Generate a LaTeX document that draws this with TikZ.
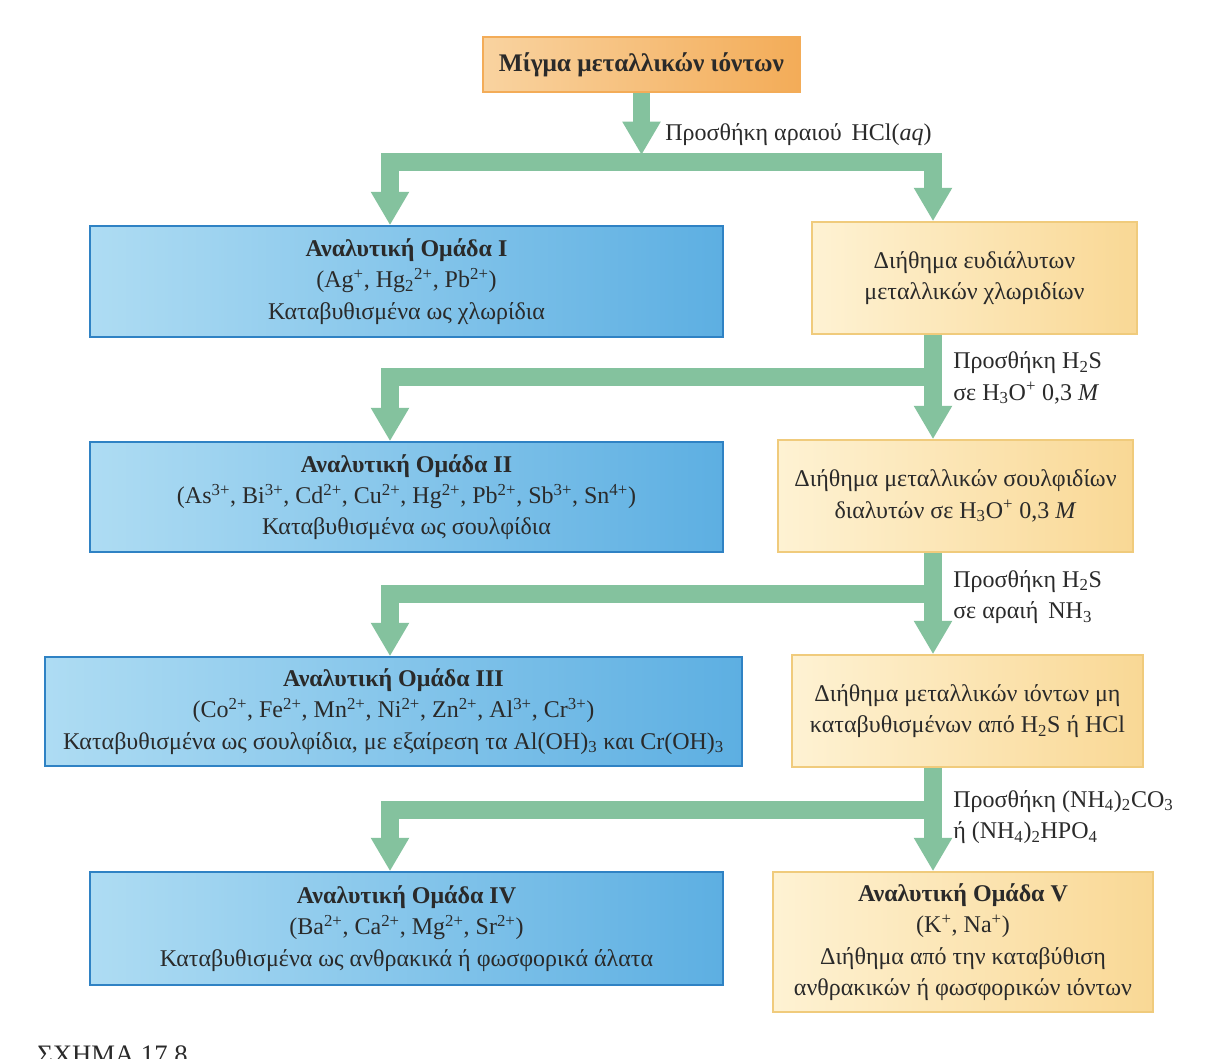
\documentclass[tikz,border=0pt]{standalone}
\usepackage{fontspec}
\setmainfont{Liberation Serif}
\usepackage{xcolor}
\usetikzlibrary{arrows.meta}
\definecolor{flowgreen}{HTML}{84C29E}
\definecolor{blueL}{HTML}{AEDCF3}
\definecolor{blueD}{HTML}{5DAFE2}
\definecolor{blueE}{HTML}{2F82C4}
\definecolor{yelL}{HTML}{FEF2D3}
\definecolor{yelD}{HTML}{F9D895}
\definecolor{yelE}{HTML}{F0CB7C}
\definecolor{oraL}{HTML}{F9D3A0}
\definecolor{oraD}{HTML}{F3AC58}
\definecolor{inkgray}{HTML}{2A2A2A}
\tikzset{
    group-box/.style = {draw=blueE, line width=1.2pt, left color=blueL, right color=blueD, rectangle, align=center, inner sep=4pt},
    filtrate-box/.style = {draw=yelE, line width=1.2pt, left color=yelL, right color=yelD, rectangle, align=center, inner sep=4pt},
    mix-box/.style = {draw=oraD, line width=1pt, left color=oraL, right color=oraD, rectangle, align=center, font=\fontsize{19}{23}\selectfont\bfseries},
    step-label/.style = {anchor=west, align=left, inner sep=0pt, text=inkgray},
    flow-arrow/.style = {draw=flowgreen, line width=13pt, line join=miter},
    flow-tip/.style = {-{Triangle[length=25pt,width=27pt]}},
}

\begin{document}
\begin{tikzpicture}[x=0.75pt,y=-0.75pt, font=\fontsize{18}{23.5}\selectfont, text=inkgray]
\fill[white] (0,0) rectangle (1205,1058);
\useasboundingbox (0,0) rectangle (1205,1058);

% lanes of the flow
\coordinate (spine) at (933,0);
\coordinate (lane) at (390,0);
\coordinate (bar1) at (636,162);
\coordinate (bar2) at (933,377);
\coordinate (bar3) at (933,594);
\coordinate (bar4) at (933,810);

% boxes
\node[mix-box, minimum width=237.75pt, minimum height=41.25pt] (mix) at (641.5,64.5) {Μίγμα μεταλλικών ιόντων};

\node[group-box, minimum width=474.75pt, minimum height=83.25pt] (grpI) at (406.5,281.5)
    {\textbf{Αναλυτική Ομάδα I}\\(Ag\textsuperscript{+}, Hg\textsubscript{2}\textsuperscript{2+}, Pb\textsuperscript{2+})\\Καταβυθισμένα ως χλωρίδια};
\node[filtrate-box, minimum width=243.75pt, minimum height=84pt] (sol1) at (974.5,278)
    {Διήθημα ευδιάλυτων\\μεταλλικών χλωριδίων};

\node[group-box, minimum width=474.75pt, minimum height=82.5pt] (grpII) at (406.5,497)
    {\textbf{Αναλυτική Ομάδα II}\\(As\textsuperscript{3+}, Bi\textsuperscript{3+}, Cd\textsuperscript{2+}, Cu\textsuperscript{2+}, Hg\textsuperscript{2+}, Pb\textsuperscript{2+}, Sb\textsuperscript{3+}, Sn\textsuperscript{4+})\\Καταβυθισμένα ως σουλφίδια};
\node[filtrate-box, minimum width=266.25pt, minimum height=84pt] (sol2) at (955.5,496)
    {Διήθημα μεταλλικών σουλφιδίων\\διαλυτών σε H\textsubscript{3}O\textsuperscript{+} 0,3 \textit{M}};

\node[group-box, minimum width=522.75pt, minimum height=81.75pt] (grpIII) at (393.5,711.5)
    {\textbf{Αναλυτική Ομάδα III}\\(Co\textsuperscript{2+}, Fe\textsuperscript{2+}, Mn\textsuperscript{2+}, Ni\textsuperscript{2+}, Zn\textsuperscript{2+}, Al\textsuperscript{3+}, Cr\textsuperscript{3+})\\Καταβυθισμένα ως σουλφίδια, με εξαίρεση τα Al(OH)\textsubscript{3} και Cr(OH)\textsubscript{3}};
\node[filtrate-box, minimum width=263.25pt, minimum height=84pt] (sol3) at (967.5,711)
    {Διήθημα μεταλλικών ιόντων μη\\καταβυθισμένων από H\textsubscript{2}S ή HCl};

\node[group-box, minimum width=474.75pt, minimum height=84.75pt] (grpIV) at (406.5,928.5)
    {\textbf{Αναλυτική Ομάδα IV}\\(Ba\textsuperscript{2+}, Ca\textsuperscript{2+}, Mg\textsuperscript{2+}, Sr\textsuperscript{2+})\\Καταβυθισμένα ως ανθρακικά ή φωσφορικά άλατα};
\node[filtrate-box, minimum width=285pt, minimum height=105pt] (grpV) at (963,942)
    {\textbf{Αναλυτική Ομάδα V}\\(K\textsuperscript{+}, Na\textsuperscript{+})\\Διήθημα από την καταβύθιση\\ανθρακικών ή φωσφορικών ιόντων};

% arrows
\draw[flow-arrow, flow-tip] (mix.south) -- (mix.south |- 0,155);
\draw[flow-arrow, {Triangle[length=25pt,width=27pt]}-{Triangle[length=25pt,width=27pt]}]
    (grpI.north -| lane) |- (bar1) -| (sol1.north -| spine);
\draw[flow-arrow, flow-tip] (sol1.south -| spine) -- (sol2.north -| spine);
\draw[flow-arrow, flow-tip] (bar2) -| (grpII.north -| lane);
\draw[flow-arrow, flow-tip] (sol2.south -| spine) -- (sol3.north -| spine);
\draw[flow-arrow, flow-tip] (bar3) -| (grpIII.north -| lane);
\draw[flow-arrow, flow-tip] (sol3.south -| spine) -- (grpV.north -| spine);
\draw[flow-arrow, flow-tip] (bar4) -| (grpIV.north -| lane);

% labels
\node[step-label] (lab1) at (665,135) {Προσθήκη αραιού\, HCl(\textit{aq})};
\node[step-label] (lab2) at (953,378) {Προσθήκη H\textsubscript{2}S\\σε H\textsubscript{3}O\textsuperscript{+} 0,3 \textit{M}};
\node[step-label] (lab3) at (953,597) {Προσθήκη H\textsubscript{2}S\\σε αραιή\, NH\textsubscript{3}};
\node[step-label] (lab4) at (953,817) {Προσθήκη (NH\textsubscript{4})\textsubscript{2}CO\textsubscript{3}\\ή (NH\textsubscript{4})\textsubscript{2}HPO\textsubscript{4}};

\node[anchor=north west, inner sep=0pt, font=\fontsize{20}{24}\selectfont] (caption) at (37,1045) {ΣΧΗΜΑ 17.8};
\end{tikzpicture}
\end{document}
